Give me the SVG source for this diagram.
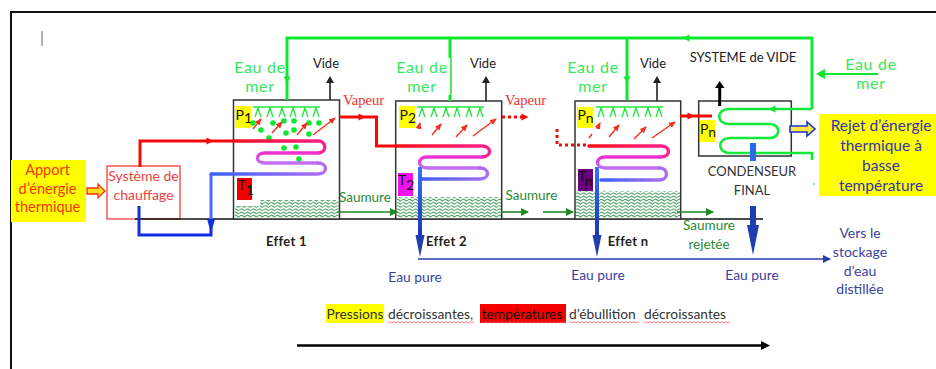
<svg xmlns="http://www.w3.org/2000/svg" width="936" height="369" viewBox="0 0 936 369">
<style>
text{font-family:Lato,"Open Sans","Liberation Sans",sans-serif}
.box{fill:#fff;stroke:#333;stroke-width:1.5}
.frame{fill:none;stroke:#111;stroke-width:2}
.sea{fill:#35e85a;font-size:16px;letter-spacing:.7px;text-anchor:middle}
.vide{fill:#222;font-size:13px;text-anchor:middle}
.eff{fill:#222;font-size:13px;font-weight:700;letter-spacing:.3px}
.pure{fill:#3a3f9e;font-size:13.800px;text-anchor:middle}
.sau{fill:#2a8a35;font-size:13.500px}
.vap{fill:#f03030;font-family:"Liberation Serif",serif;font-size:14.500px}
.lab{fill:#111;font-size:14px}
.sub{font-size:14px}
.gr{fill:none;stroke:#0fe82f;stroke-width:3}
.rd{fill:none;stroke:#f50a0a;stroke-width:3}
.dot{fill:none;stroke:#f50a0a;stroke-width:3;stroke-dasharray:3 3}
.thin{fill:none;stroke:#f03020;stroke-width:1.4}
.sm{fill:none;stroke:#1f8a25;stroke-width:1.6}
.bk{fill:none;stroke:#222;stroke-width:1.6}
.cw{fill:none;stroke-width:3.400;stroke-linecap:round}
.blue{fill:none;stroke:#1030e0;stroke-width:3}
.d{fill:#0fe82f}
.rt{fill:#f50a0a}
.gt{fill:#0fe82f}
.bt{fill:#222}
.wave{fill:url(#waves)}
.spr{fill:none;stroke:#1fe83a;stroke-width:1.300}
.txtb{fill:#3333b0;font-size:15.500px;text-anchor:middle}
.blk{fill:#333;font-size:13.800px}
</style>
<defs>
<pattern id="waves" width="6" height="3.200" patternUnits="userSpaceOnUse">
<path d="M0,1.600 Q1.500,0 3,1.600 T6,1.600" fill="none" stroke="#3f9a55" stroke-width="1"/>
</pattern>
<pattern id="sq" width="4" height="3" patternUnits="userSpaceOnUse">
<path d="M0,2 L2,.6 L4,2" fill="none" stroke="#f06060" stroke-width=".8"/>
</pattern>
<linearGradient id="gTop" x1="0" x2="1" y1="0" y2="0"><stop offset="0" stop-color="#f5101a"/><stop offset="1" stop-color="#ff2090"/></linearGradient>
<linearGradient id="gMid" x1="0" x2="0" y1="0" y2="1"><stop offset="0" stop-color="#ee30d0"/><stop offset="1" stop-color="#c070f0"/></linearGradient>
<linearGradient id="gLow" x1="1" x2="0" y1="0" y2="0"><stop offset="0" stop-color="#b070f0"/><stop offset="1" stop-color="#3a60ff"/></linearGradient>
<linearGradient id="gV" gradientUnits="userSpaceOnUse" x1="0" x2="0" y1="167" y2="236"><stop offset="0" stop-color="#3a70ff"/><stop offset="1" stop-color="#1a35b5"/></linearGradient>
<path id="tri" d="M-3.500,-3.500 L3.500,0 L-3.500,3.500Z"/>
<path id="head" d="M-4,0 L4,0 L0,-7Z"/>
<g id="spray">
<path class="spr" d="M0,0 H67 M5,0 V1 L2,10 M5,1 L8,10 M17,0 V1 L14,10 M17,1 L20,10 M29,0 V1 L26,10 M29,1 L32,10 M40,0 V1 L37,10 M40,1 L43,10 M52,0 V1 L49,10 M52,1 L55,10 M63,0 V1 L60,10 M63,1 L66,10"/>
</g>
<marker id="ar" markerWidth="7" markerHeight="7" refX="6" refY="3" orient="auto" markerUnits="userSpaceOnUse"><path d="M0,0 L7,3 L0,6Z" fill="#f03020"/></marker>
<marker id="as" markerWidth="9" markerHeight="9" refX="7" refY="4" orient="auto" markerUnits="userSpaceOnUse"><path d="M0,0 L8,4 L0,8Z" fill="#1f8a25"/></marker>
<marker id="ap" markerWidth="10" markerHeight="10" refX="7" refY="4" orient="auto" markerUnits="userSpaceOnUse"><path d="M0,0 L8,4 L0,8Z" fill="#2a3aa8"/></marker>
</defs>
<rect width="936" height="369" fill="#fff"/>
<path class="frame" d="M936,12 H11 V369"/>
<path d="M42,31 V46" stroke="#999" stroke-width="1.500" fill="none"/>

<g id="apport">
<rect x="11" y="160" width="75" height="62" fill="#ffff00"/>
<text x="47.500" y="175" fill="#f5340c" font-size="14.500" text-anchor="middle">Apport</text>
<text x="47.500" y="194" fill="#f5340c" font-size="14.500" text-anchor="middle">d’énergie</text>
<text x="47.500" y="212" fill="#f5340c" font-size="14.500" text-anchor="middle">thermique</text>
</g>
<g id="chauffage">
<rect x="107" y="166" width="73" height="53" fill="#fff" stroke="#f03030" stroke-width="1.200"/>
<text x="143.500" y="181" fill="#f04040" font-size="14" text-anchor="middle">Système de</text>
<text x="143.500" y="200" fill="#f04040" font-size="14" text-anchor="middle">chauffage</text>
</g>
<path d="M135,219 H763" stroke="#111" stroke-width="1.300" fill="none"/>

<g id="effet1">
<rect class="box" x="233.500" y="100" width="106" height="119"/>
<path class="wave" d="M235,206 H260 V200 H338.500 V218 H235Z"/>
<use href="#spray" x="253" y="107"/>
<rect x="235" y="106" width="16" height="22" fill="#ffff00"/>
<text class="lab" x="235.500" y="120">P<tspan class="sub" dy="3">1</tspan></text>
<rect x="237" y="178" width="15" height="22" fill="#f00000"/>
<text class="lab" x="237.500" y="190">T<tspan class="sub" dy="5">1</tspan></text>
<g class="d">
<circle cx="253" cy="123" r="2.800"/><circle cx="261" cy="130" r="2.800"/><circle cx="273" cy="123" r="2.800"/><circle cx="284" cy="121" r="2.800"/><circle cx="294" cy="121" r="2.800"/><circle cx="286" cy="133" r="2.800"/><circle cx="294" cy="130" r="2.800"/><circle cx="309" cy="123" r="2.800"/><circle cx="319" cy="123" r="2.800"/><circle cx="309" cy="134" r="2.800"/><circle cx="269" cy="138" r="2.800"/><circle cx="284" cy="148" r="2.800"/><circle cx="296" cy="147" r="2.800"/><circle cx="299" cy="159" r="2.800"/>
</g>
<g>
<path class="thin" marker-end="url(#ar)" d="M253,129 L261,119"/><path class="thin" marker-end="url(#ar)" d="M272,133 L282,122"/><path class="thin" marker-end="url(#ar)" d="M297,135 L307,123"/><path class="thin" marker-end="url(#ar)" d="M313,135 L335,118"/>
</g>
<path class="cw" stroke="url(#gTop)" d="M233,141 H318 C327,141 327,153 318,153"/>
<path class="cw" stroke="url(#gMid)" d="M318,153 H265 C255,153 255,163 265,163 H318"/>
<path class="cw" stroke="url(#gLow)" d="M318,163 C328,163 328,174 318,174 H211"/>
<text class="eff" x="266" y="246">Effet 1</text>
</g>

<g id="effet2">
<rect class="box" x="395.700" y="101" width="106" height="118"/>
<rect class="wave" x="397" y="197" width="104" height="21"/>
<use href="#spray" x="417" y="107"/>
<rect x="399" y="106" width="16" height="22" fill="#ffff00"/>
<text class="lab" x="399.500" y="120">P<tspan class="sub" dy="3">2</tspan></text>
<rect x="398" y="173" width="15" height="23" fill="#f010f0"/>
<text class="lab" x="398" y="185">T<tspan class="sub" dy="5">2</tspan></text>
<g>
<path class="thin" marker-end="url(#ar)" d="M419,127 L420,123"/><path class="thin" marker-end="url(#ar)" d="M432,135 L441,124"/><path class="thin" marker-end="url(#ar)" d="M456,137 L467,125"/><path class="thin" marker-end="url(#ar)" d="M473,136 L496,119"/>
</g>
<path class="cw" stroke="url(#gTop)" d="M396,146 H482 C492,146 492,157 482,157"/>
<path class="cw" stroke="url(#gMid)" d="M482,157 H427 C417,157 417,168 427,168 H480"/>
<path class="cw" stroke="url(#gLow)" d="M480,168 C490,168 490,179 480,179 H422"/>
<text class="eff" x="426" y="246">Effet 2</text>
</g>

<g id="effetn">
<rect class="box" x="575" y="101" width="105.700" height="118"/>
<rect class="wave" x="576" y="191" width="104" height="27"/>
<use href="#spray" x="596" y="107"/>
<rect x="577" y="107" width="16" height="21" fill="#ffff00"/>
<text class="lab" x="577.500" y="120">P<tspan class="sub" dy="3">n</tspan></text>
<rect x="578" y="169" width="15" height="22" fill="#6a0078"/>
<text class="lab" x="578" y="181">T<tspan class="sub" dy="5">n</tspan></text>
<g>
<path class="thin" marker-end="url(#ar)" d="M597,129 L600,123"/><path class="thin" d="M589,138 L592,134"/><path class="thin" marker-end="url(#ar)" d="M609,137 L619,125"/><path class="thin" marker-end="url(#ar)" d="M634,139 L646,127"/><path class="thin" marker-end="url(#ar)" d="M652,138 L675,122"/>
</g>
<path class="cw" stroke="url(#gTop)" d="M589,146 H661 C671,146 671,157 661,157"/>
<path class="cw" stroke="url(#gMid)" d="M661,157 H605 C595,157 595,168 605,168 H659"/>
<path class="cw" stroke="url(#gLow)" d="M659,168 C669,168 669,180 659,180 H601"/>
<text class="eff" x="607.700" y="246">Effet n</text>
</g>

<g id="condenseur">
<rect class="box" x="698.700" y="101" width="92.600" height="55"/>
<path fill="none" stroke="#14e838" stroke-width="2.600" d="M812,109 H729 C716,109 716,124 729,124 H770 C781,124 781,138 770,138 H730 C717,138 717,153 730,153 H812 V160"/>
<rect x="700" y="120" width="15" height="22" fill="#ffff00"/>
<text class="lab" x="700" y="134">P<tspan class="sub" dy="3">n</tspan></text>
<rect x="750" y="143" width="6" height="18" fill="#2a6ae8"/>
<path d="M814,183 V185" stroke="#14e838" stroke-width="1" fill="none"/>
<text x="752" y="176" fill="#333" font-size="13" text-anchor="middle">CONDENSEUR</text>
<text x="752" y="195" fill="#333" font-size="13" text-anchor="middle">FINAL</text>
</g>

<g id="rejet">
<rect x="819" y="114" width="117" height="82" fill="#ffff00"/>
<text class="txtb" x="881" y="131">Rejet d’énergie</text>
<text class="txtb" x="881" y="151">thermique à</text>
<text class="txtb" x="881" y="171">basse</text>
<text class="txtb" x="881" y="191">température</text>
</g>

<g id="connectors">
<path d="M87,188 H98 V184 L105,191 L98,198 V194 H87Z" fill="#ffe020" stroke="#f03010" stroke-width="1.300"/>
<path d="M790,126 H807 V122 L815,129 L807,136 V132 H790Z" fill="#ffe840" stroke="#1a30e0" stroke-width="1.600"/>
<path class="rd" d="M140,167 V141 H233"/><use href="#tri" class="rt" x="210" y="141"/>
<path class="blue" d="M139,206 V235 H211 V219"/><path d="M207,219 H215 L211,233Z" fill="#1030e0"/>
<path fill="none" stroke="#4a68ff" stroke-width="3" d="M211,174 V219"/>
<path class="gr" d="M287,100 V38 H812 V109"/>
<use href="#tri" class="gt" transform="translate(686,38) rotate(180)"/>
<use href="#tri" class="gt" transform="translate(287,80) rotate(90)"/>
<path class="gr" d="M450,38 V58 M450,95 V101"/><path fill="none" stroke="#0fe82f" stroke-width="1.500" d="M451,58 V95"/>
<path class="gr" d="M627,38 V100"/><use href="#tri" class="gt" transform="translate(627,80) rotate(90)"/>
<path fill="none" stroke="#0fe82f" stroke-width="2" d="M878,74 H822"/><path class="gt" d="M825,69 V79 L816,74Z"/>
<use href="#tri" class="gt" transform="translate(772,109) rotate(180)"/>
<path class="rd" d="M339.500,117 H376.500 V146 H396"/><use href="#tri" class="rt" x="362" y="117"/>
<path class="dot" d="M502,117 H522"/><use href="#tri" class="rt" x="525" y="117"/>
<path class="dot" d="M557,129 V145 H589"/>
<path class="rd" d="M680,116 H712"/><use href="#tri" class="rt" x="691" y="116"/>
<path fill="none" stroke="#000" stroke-width="3" d="M719.700,106 V86"/><path d="M715,88 H724.500 L719.700,81Z" fill="#000"/>
<use href="#head" class="bt" x="330" y="83"/><path class="bk" d="M330,100 V82"/>
<use href="#head" class="bt" x="486" y="83"/><path class="bk" d="M486,101 V82"/>
<use href="#head" class="bt" x="657" y="83"/><path class="bk" d="M657,101 V82"/>
<path class="sm" marker-end="url(#as)" d="M337,212 H397"/>
<path class="sm" marker-end="url(#as)" d="M501,212 H528"/>
<path class="sm" marker-end="url(#as)" d="M543,212 H573"/>
<path class="sm" marker-end="url(#as)" d="M677,212 H713"/>
<path fill="none" stroke="#2a3aa8" stroke-width="1.600" marker-end="url(#ap)" d="M418,259 H830"/>
<path fill="none" stroke="url(#gV)" stroke-width="4" d="M420,167 V236"/><path d="M415.500,235 H424.500 L420,257Z" fill="#1f3fb0"/>
<path fill="none" stroke="url(#gV)" stroke-width="4" d="M597,167 V236"/><path d="M592.500,235 H601.500 L597,257Z" fill="#1f3fb0"/>
<path fill="none" stroke="#1f3fb0" stroke-width="6" d="M753,206 V226"/><path d="M747,225 H759 L753,255Z" fill="#1f3fb0"/>
</g>

<g id="labels">
<text class="sea" x="260" y="73">Eau de</text><text class="sea" x="260" y="92">mer</text>
<text class="sea" x="422" y="73">Eau de</text><text class="sea" x="422" y="92">mer</text>
<text class="sea" x="593" y="73">Eau de</text><text class="sea" x="593" y="92">mer</text>
<text class="sea" x="871" y="70">Eau de</text><text class="sea" x="871" y="89">mer</text>
<text class="vide" x="326" y="68">Vide</text><text class="vide" x="483" y="68">Vide</text><text class="vide" x="653" y="68">Vide</text>
<text x="743" y="62" fill="#222" font-size="13" text-anchor="middle">SYSTEME de VIDE</text>
<text class="vap" x="343" y="105">Vapeur</text><text class="vap" x="505" y="105">Vapeur</text>
<text class="sau" x="339" y="202">Saumure</text><text class="sau" x="505.500" y="200">Saumure</text>
<text x="709" y="230" fill="#2a8a35" font-size="13.500" text-anchor="middle">Saumure</text>
<text x="709" y="249" fill="#2a8a35" font-size="13.500" text-anchor="middle">rejetée</text>
<text class="pure" x="415" y="282">Eau pure</text><text class="pure" x="598" y="280">Eau pure</text><text class="pure" x="752" y="280">Eau pure</text>
<g fill="#3a3f9e" font-size="14" text-anchor="middle">
<text x="860" y="238">Vers le</text><text x="860" y="257">stockage</text><text x="860" y="276">d’eau</text><text x="860" y="294">distillée</text>
</g>
<rect x="326" y="304" width="58" height="19" fill="#ffff00"/>
<rect x="480" y="304" width="86" height="19" fill="#f50000"/>
<rect x="388" y="321" width="86" height="3" fill="url(#sq)"/>
<rect x="481" y="321" width="85" height="3" fill="url(#sq)"/>
<rect x="569" y="321" width="70" height="3" fill="url(#sq)"/>
<rect x="644" y="321" width="86" height="3" fill="url(#sq)"/>
<text class="blk" x="326.500" y="319">Pressions</text>
<text class="blk" x="388" y="319">décroissantes,</text>
<text class="blk" x="481.500" y="319" style="fill:#111">températures</text>
<text class="blk" x="569" y="319">d’ébullition</text>
<text class="blk" x="644" y="319">décroissantes</text>
<path fill="none" stroke="#000" stroke-width="2.500" d="M297,345.500 H764"/><path d="M761,341 L770,345.500 L761,350Z" fill="#000"/>
</g>
</svg>
